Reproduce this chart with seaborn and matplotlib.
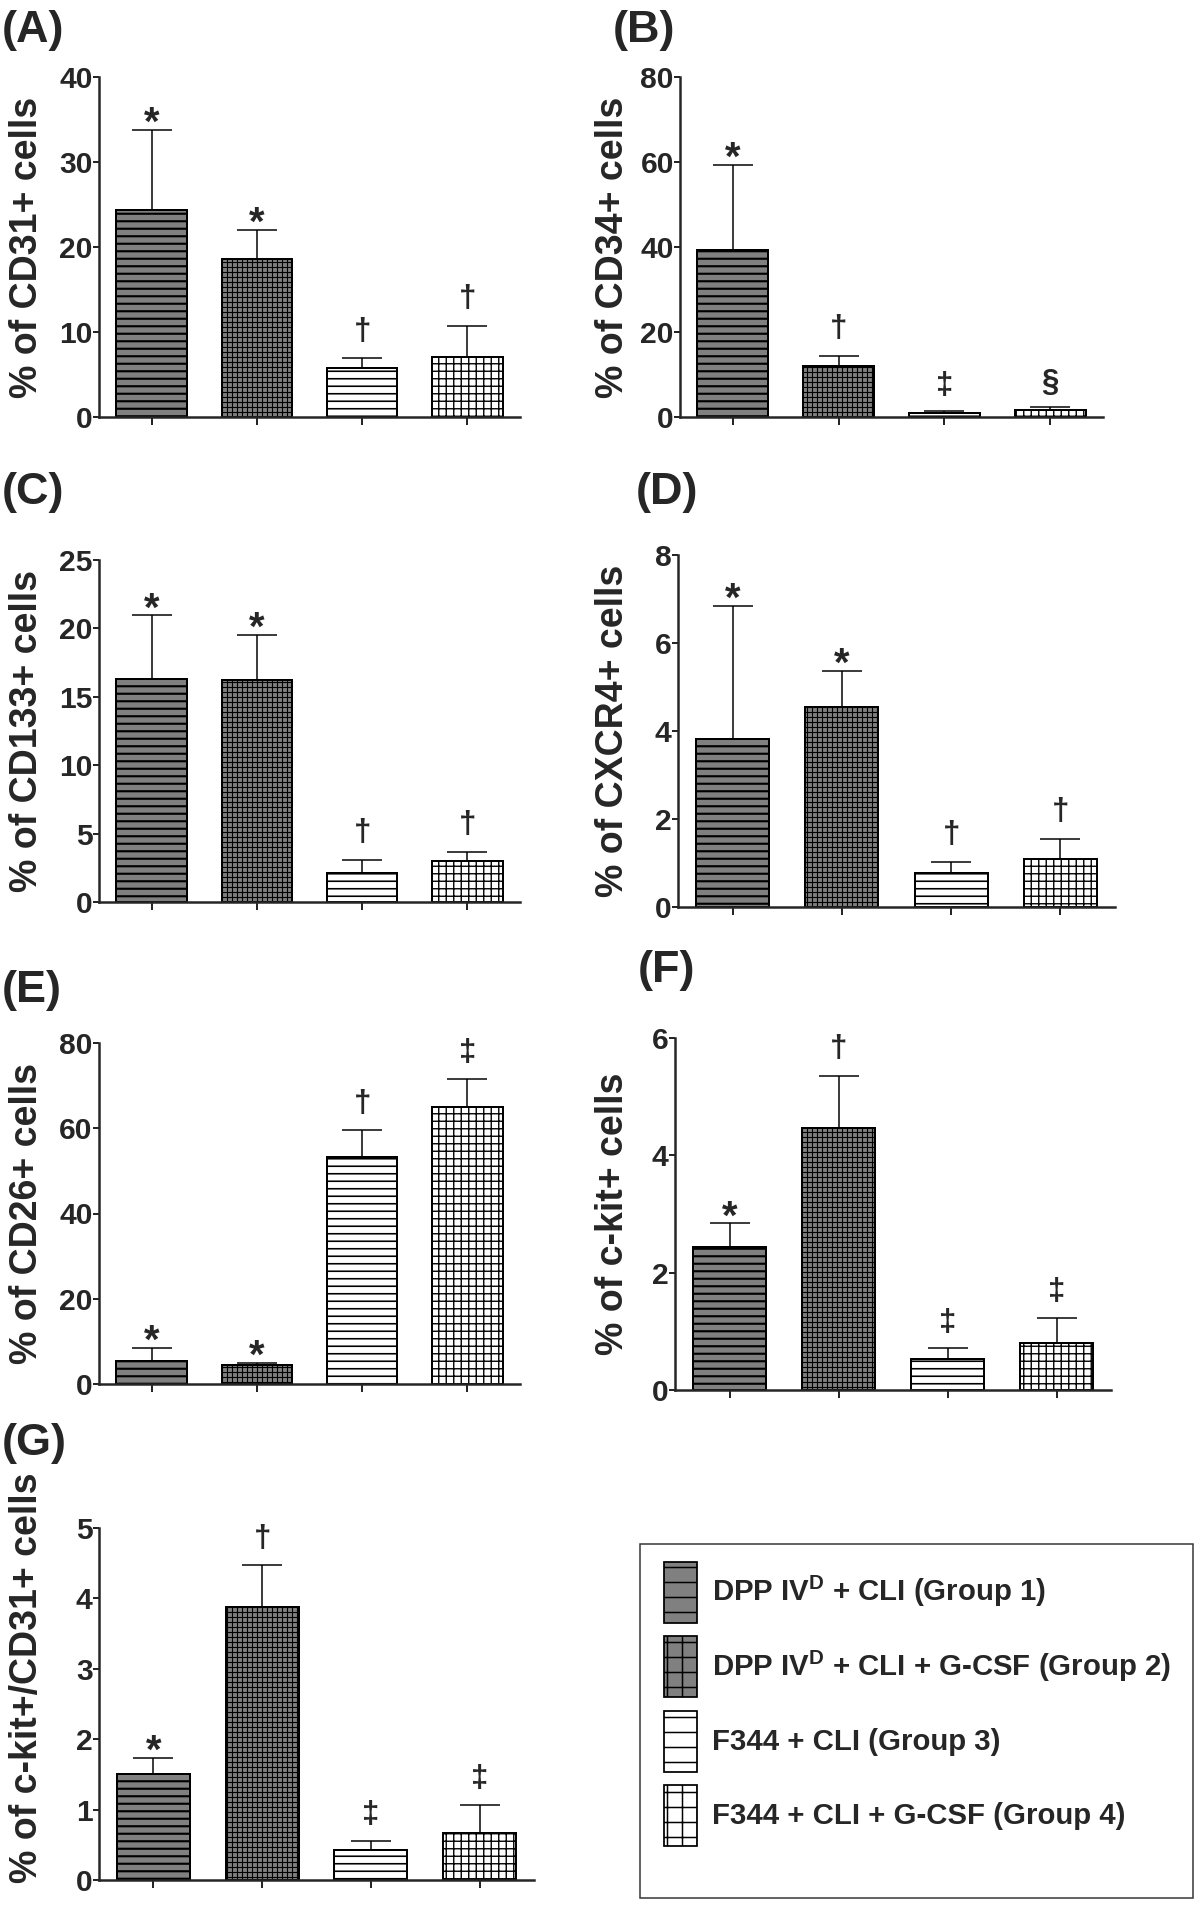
"""
plot.py - Circulating EPC markers in four rat groups, panels (A)-(G)
with one shared legend. Bars show mean, whisker shows the upper SEM.
"""

import numpy as np
import pandas as pd
import matplotlib
matplotlib.use("Agg")
import matplotlib.pyplot as plt
from matplotlib.patches import Patch, Rectangle
import seaborn as sns

# ---------------------------------------------------------------- data
GROUPS = ["Group 1", "Group 2", "Group 3", "Group 4"]
LEGEND_LABELS = [
    r"DPP IV$^{\mathbf{D}}$ + CLI (Group 1)",
    r"DPP IV$^{\mathbf{D}}$ + CLI + G-CSF (Group 2)",
    "F344 + CLI (Group 3)",
    "F344 + CLI + G-CSF (Group 4)",
]

cd31_mean = [24.4, 18.6, 5.8, 7.1]
cd31_err = [9.4, 3.4, 1.1, 3.6]
cd31_mark = ["*", "*", "†", "†"]
cd31_ticks = [0, 10, 20, 30, 40]

cd34_mean = [39.2, 12.1, 0.9, 1.7]
cd34_err = [20.2, 2.3, 0.4, 0.65]
cd34_mark = ["*", "†", "‡", "§"]
cd34_ticks = [0, 20, 40, 60, 80]

cd133_mean = [16.3, 16.2, 2.15, 2.98]
cd133_err = [4.65, 3.3, 0.95, 0.68]
cd133_mark = ["*", "*", "†", "†"]
cd133_ticks = [0, 5, 10, 15, 20, 25]

cxcr4_mean = [3.82, 4.54, 0.77, 1.10]
cxcr4_err = [3.02, 0.83, 0.25, 0.44]
cxcr4_mark = ["*", "*", "†", "†"]
cxcr4_ticks = [0, 2, 4, 6, 8]

cd26_mean = [5.3, 4.5, 53.3, 64.9]
cd26_err = [3.15, 0.4, 6.2, 6.7]
cd26_mark = ["*", "*", "†", "‡"]
cd26_ticks = [0, 20, 40, 60, 80]

ckit_mean = [2.44, 4.46, 0.52, 0.80]
ckit_err = [0.40, 0.90, 0.19, 0.43]
ckit_mark = ["*", "†", "‡", "‡"]
ckit_ticks = [0, 2, 4, 6]

ckit_cd31_mean = [1.50, 3.88, 0.42, 0.67]
ckit_cd31_err = [0.24, 0.59, 0.14, 0.40]
ckit_cd31_mark = ["*", "†", "‡", "‡"]
ckit_cd31_ticks = [0, 1, 2, 3, 4, 5]

# ---------------------------------------------------------------- style
W, H, DPI = 1200, 1923, 90
FILLS = ["#808080", "#808080", "white", "white"]
HATCHES = ["--", "+++", "--", "++"]
HATCH_LW = [1.7, 0.9, 1.3, 1.1]
LEGEND_HATCHES = ["-", "+", "-", "+"]
BAR_WIDTH = 0.67
TICK_FONT = ["Liberation Sans Narrow", "Liberation Sans", "DejaVu Sans"]

# symbol font size and baseline offset (points) above the error cap
MARK_STYLE = {"*": (32, -4), "†": (25, 15), "‡": (25, 14), "§": (25, 13)}

sns.set_style("ticks")
plt.rcParams["font.family"] = ["Liberation Sans", "DejaVu Sans"]
plt.rcParams["font.weight"] = "bold"
plt.rcParams["mathtext.fontset"] = "custom"
plt.rcParams["mathtext.rm"] = "Liberation Sans:bold"
plt.rcParams["mathtext.bf"] = "Liberation Sans:bold"
plt.rcParams["hatch.linewidth"] = 1.2


def frac_rect(left, right, top, bottom):
    """Pixel box of the reference -> figure fraction rect."""
    return [left / W, 1 - bottom / H, (right - left) / W, (bottom - top) / H]


def set_hatch(patch, hatch, lw):
    patch.set_hatch(hatch)
    if hasattr(patch, "set_hatch_linewidth"):
        patch.set_hatch_linewidth(lw)


def draw_panel(fig, box, letter, letter_xy, means, errs, marks, ticks,
               ylabel, label_x, label_y=None):
    ax = fig.add_axes(frac_rect(*box))
    df = pd.DataFrame({"group": GROUPS, "value": means})
    sns.barplot(data=df, x="group", y="value", hue="group", palette=FILLS,
                saturation=1, width=BAR_WIDTH, errorbar=None, legend=False,
                edgecolor="black", linewidth=1.6, ax=ax)
    for patch, hatch, lw in zip(ax.patches, HATCHES, HATCH_LW):
        set_hatch(patch, hatch, lw)

    x = np.arange(len(GROUPS))
    ax.errorbar(x, means, yerr=[np.zeros(len(means)), errs], fmt="none",
                ecolor="black", elinewidth=1.2, capsize=16, capthick=1.2,
                zorder=3)
    for xi, m, e, s in zip(x, means, errs, marks):
        size, off = MARK_STYLE[s]
        ax.annotate(s, (xi, m + e), xytext=(0, off), textcoords="offset points",
                    ha="center", va="baseline", fontsize=size,
                    fontweight="bold", annotation_clip=False)

    ax.set_xlim(-0.5, 3.5)
    ax.set_ylim(0, ticks[-1])
    ax.set_yticks(ticks)
    ax.set_xticks(x)
    ax.tick_params(axis="x", labelbottom=False, length=6.5, width=1.6,
                   direction="out")
    ax.tick_params(axis="y", labelsize=24, length=4.5, width=1.6, pad=0.5,
                   labelfontfamily=TICK_FONT)
    ax.set_xlabel("")
    ax.set_ylabel(ylabel, fontsize=30, fontweight="bold")
    left, right, top, bottom = box
    ly = 0.5 if label_y is None else (bottom - label_y) / (bottom - top)
    ax.yaxis.set_label_coords((label_x - left) / (right - left), ly)
    ax.yaxis.label.set_verticalalignment("center")
    sns.despine(ax=ax)
    for side in ("left", "bottom"):
        ax.spines[side].set_linewidth(2)

    fig.text(letter_xy[0] / W, 1 - letter_xy[1] / H, letter, ha="left",
             va="top", fontsize=36, fontweight="bold")
    return ax


def main():
    fig = plt.figure(figsize=(W / DPI, H / DPI), dpi=DPI)

    draw_panel(fig, (99, 520, 77, 417), "(A)", (2, 10), cd31_mean, cd31_err,
               cd31_mark, cd31_ticks, "% of CD31+ cells", 27)
    draw_panel(fig, (680, 1103, 77, 417), "(B)", (613, 10), cd34_mean, cd34_err,
               cd34_mark, cd34_ticks, "% of CD34+ cells", 613)
    draw_panel(fig, (99, 520, 560, 902), "(C)", (2, 472), cd133_mean, cd133_err,
               cd133_mark, cd133_ticks, "% of CD133+ cells", 27)
    draw_panel(fig, (678, 1115, 555, 907), "(D)", (636, 472), cxcr4_mean,
               cxcr4_err, cxcr4_mark, cxcr4_ticks, "% of CXCR4+ cells", 613)
    draw_panel(fig, (99, 520, 1043, 1384), "(E)", (2, 970), cd26_mean, cd26_err,
               cd26_mark, cd26_ticks, "% of CD26+ cells", 27)
    draw_panel(fig, (675, 1111, 1038, 1390), "(F)", (638, 950), ckit_mean,
               ckit_err, ckit_mark, ckit_ticks, "% of c-kit+ cells", 613)
    draw_panel(fig, (99, 534, 1528, 1880), "(G)", (2, 1423), ckit_cd31_mean,
               ckit_cd31_err, ckit_cd31_mark, ckit_cd31_ticks,
               "% of c-kit+/CD31+ cells", 27, label_y=1678)

    # shared legend, framed by a plain box like the original
    fs = 23.5
    handles = []
    for c, h in zip(FILLS, LEGEND_HATCHES):
        p = Patch(facecolor=c, edgecolor="black", linewidth=1.4)
        set_hatch(p, h, 1.3)
        handles.append(p)
    fig.legend(handles, LEGEND_LABELS, loc="upper left",
               bbox_to_anchor=(664 / W, 1 - 1562 / H), frameon=False,
               fontsize=fs, borderpad=0, borderaxespad=0,
               handlelength=1.12, handleheight=2.82, handletextpad=0.5,
               labelspacing=0.45)
    fig.add_artist(Rectangle((640 / W, 1 - 1898 / H), (1193 - 640) / W,
                             (1898 - 1544) / H, transform=fig.transFigure,
                             fill=False, edgecolor="#333333", linewidth=1.2))

    fig.savefig("out.png", dpi=DPI)
    plt.close(fig)


if __name__ == "__main__":
    main()
